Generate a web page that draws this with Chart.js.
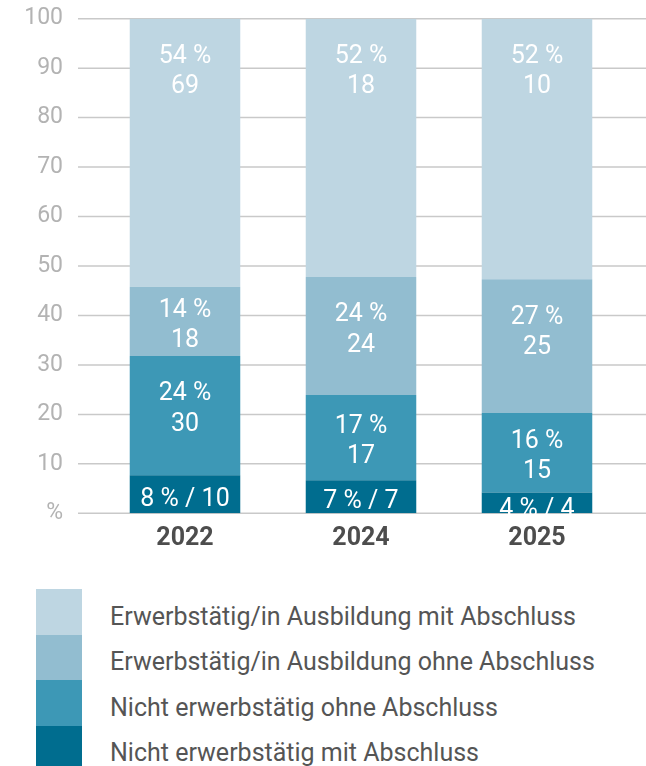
<!DOCTYPE html>
<html>
<head>
<meta charset="utf-8">
<script src="https://cdn.jsdelivr.net/npm/chart.js@4"></script>
<style>
  html, body { margin: 0; padding: 0; background: #fff; }
  #wrap { position: relative; width: 646px; height: 766px; overflow: hidden; }
  canvas { display: block; }
  #legend { position: absolute; left: 36px; top: 589px; font-family: Roboto, sans-serif; font-size: 25px; color: #555; }
  .row { height: 45.5px; display: flex; align-items: center; }
  .sw { width: 46px; height: 45.5px; }
  .lab { margin-left: 28px; padding-top: 9px; white-space: nowrap; }
</style>
</head>
<body>
<div id="wrap">
  <canvas id="barChart" width="646" height="570"></canvas>
  <div id="legend"></div>
</div>
<script>
// categories
var years = ["2022", "2024", "2025"];

// segment heights (share of 100), bottom to top
var nichtMit = [7.7, 6.7, 4.2];
var nichtOhne = [24.1, 17.2, 16.1];
var erwOhne = [14.0, 23.9, 27.0];
var erwMit = [54.2, 52.2, 52.7];

// printed percentages and counts
var pctNichtMit = [8, 7, 4];
var pctNichtOhne = [24, 17, 16];
var pctErwOhne = [14, 24, 27];
var pctErwMit = [54, 52, 52];
var cntNichtMit = [10, 7, 4];
var cntNichtOhne = [30, 17, 15];
var cntErwOhne = [18, 24, 25];
var cntErwMit = [69, 18, 10];

// y axis ticks
var yTicks = [0, 10, 20, 30, 40, 50, 60, 70, 80, 90, 100];

var series = [
  { label: "Nicht erwerbstätig mit Abschluss", data: nichtMit, pct: pctNichtMit, cnt: cntNichtMit, color: "#006d8f" },
  { label: "Nicht erwerbstätig ohne Abschluss", data: nichtOhne, pct: pctNichtOhne, cnt: cntNichtOhne, color: "#3d98b6" },
  { label: "Erwerbstätig / in Ausbildung ohne Abschluss", data: erwOhne, pct: pctErwOhne, cnt: cntErwOhne, color: "#92bdd0" },
  { label: "Erwerbstätig / in Ausbildung mit Abschluss", data: erwMit, pct: pctErwMit, cnt: cntErwMit, color: "#bed6e2" },
];

// grid lines running wider than the bar area
var gridPlugin = {
  id: "wideGrid",
  beforeDatasetsDraw: function (chart) {
    var c = chart.ctx;
    var y = chart.scales.y;
    c.save();
    c.strokeStyle = "#c9c9c9";
    c.lineWidth = 1.5;
    yTicks.forEach(function (t) {
      var py = y.getPixelForValue(t);
      c.beginPath();
      c.moveTo(78, py);
      c.lineTo(646, py);
      c.stroke();
    });
    c.restore();
  },
};

// white labels inside the segments
var labelPlugin = {
  id: "segLabels",
  afterDatasetsDraw: function (chart) {
    var c = chart.ctx;
    c.save();
    c.fillStyle = "#fff";
    c.font = "25px Roboto";
    c.textAlign = "center";
    c.textBaseline = "middle";
    var shift = 4; // roboto digits sit above the em middle
    series.forEach(function (s, di) {
      chart.getDatasetMeta(di).data.forEach(function (bar, i) {
        var top = Math.min(bar.y, bar.base);
        var bottom = Math.max(bar.y, bar.base);
        var h = bottom - top;
        if (di === 0) {
          var vy = (top + bottom) / 2 + (h < 25 ? 2.5 : 1);
          c.fillText(s.pct[i] + " % / " + s.cnt[i], bar.x, vy + shift);
        } else {
          var mid = Math.min((top + bottom) / 2, top + 49);
          c.fillText(s.pct[i] + " %", bar.x, mid - 15 + shift);
          c.fillText(String(s.cnt[i]), bar.x, mid + 15.5 + shift);
        }
      });
    });
    c.restore();
  },
};

var ctx = document.getElementById("barChart").getContext("2d");
var myChart = new Chart(ctx, {
  type: "bar",
  data: {
    labels: years,
    datasets: series.map(function (s) {
      return {
        label: s.label,
        data: s.data,
        backgroundColor: s.color,
        borderWidth: 0,
        categoryPercentage: 1,
        barPercentage: 0.628,
      };
    }),
  },
  options: {
    responsive: false,
    animation: false,
    layout: { padding: { top: 18.7, right: 21, left: 0, bottom: 0 } },
    plugins: { legend: { display: false }, tooltip: { enabled: false } },
    scales: {
      x: {
        stacked: true,
        grid: { display: false },
        border: { display: false },
        ticks: { color: "#4d4d4d", font: { family: "Roboto", size: 25, weight: "bold" }, padding: 2 },
        afterFit: function (scale) { scale.height = 56.7; },
      },
      y: {
        stacked: true,
        min: 0,
        max: 100,
        grid: { display: false, drawTicks: false },
        border: { display: false },
        ticks: {
          stepSize: 10,
          padding: 34,
          color: "#b3b3b3",
          font: { family: "Roboto", size: 23 },
          callback: function (v) { return v === 0 ? "%" : v; },
        },
        afterFit: function (scale) { scale.width = 97; scale.paddingTop = 0; scale.paddingBottom = 0; },
      },
    },
  },
  plugins: [gridPlugin, labelPlugin],
});

// legend, top row = top of the stack
var legend = document.getElementById("legend");
series.slice().reverse().forEach(function (s) {
  var row = document.createElement("div");
  row.className = "row";
  row.innerHTML = '<div class="sw" style="background:' + s.color + '"></div><div class="lab">' +
    s.label.replace(" / ", "/") + "</div>";
  legend.appendChild(row);
});
</script>
</body>
</html>
